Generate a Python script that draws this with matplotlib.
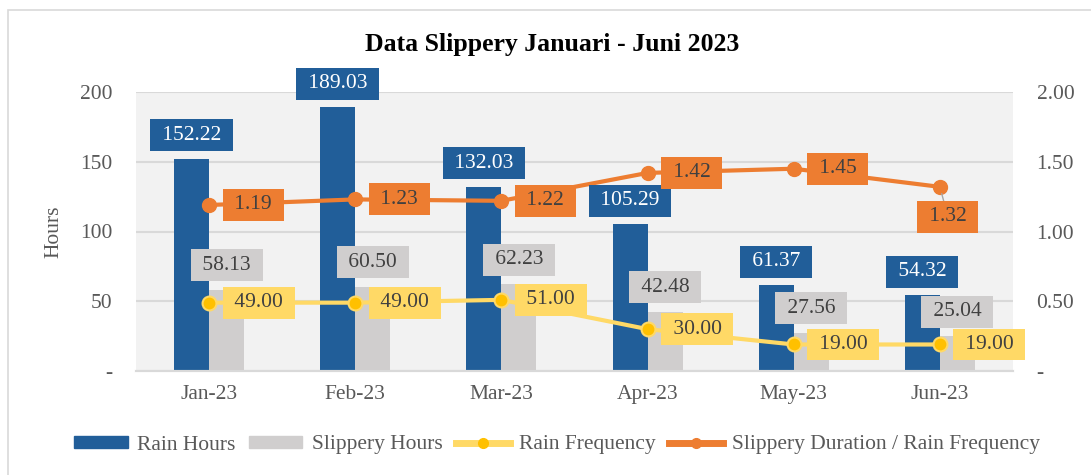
import matplotlib
matplotlib.use("Agg")
import matplotlib.pyplot as plt
import numpy as np
from matplotlib.lines import Line2D
from matplotlib.patches import Patch, Rectangle

plt.rcParams["font.family"] = ["Liberation Serif", "DejaVu Serif"]

months = ["Jan-23", "Feb-23", "Mar-23", "Apr-23", "May-23", "Jun-23"]
rain_hours = [152.22, 189.03, 132.03, 105.29, 61.37, 54.32]
slippery_hours = [58.13, 60.50, 62.23, 42.48, 27.56, 25.04]
rain_freq = [49.00, 49.00, 51.00, 30.00, 19.00, 19.00]
slip_per_rain = [1.19, 1.23, 1.22, 1.42, 1.45, 1.32]

left_ticks = [0, 50, 100, 150, 200]
left_labels = ["-", "50", "100", "150", "200"]
right_ticks = [0, 0.5, 1.0, 1.5, 2.0]
right_labels = ["-", "0.50", "1.00", "1.50", "2.00"]

BLUE = "#215E99"
GRAY = "#D0CECE"
YELLOW = "#FFD966"
GOLD = "#FFC000"
ORANGE = "#ED7D31"
TXT = "#404040"
TICK = "#595959"
GRID = "#D9D9D9"
FS = 15.5

fig = plt.figure(figsize=(10.91, 4.75), dpi=100)
ax = fig.add_axes([136 / 1091, 104 / 475, 877 / 1091, 279 / 475])
ax2 = ax.twinx()

x = np.arange(len(months))
w = 0.24
ax.set_facecolor("#F2F2F2")
ax.bar(x - w / 2, rain_hours, w, color=BLUE, zorder=2)
ax.bar(x + w / 2, slippery_hours, w, color=GRAY, zorder=2)
ax.plot(x, rain_freq, color=YELLOW, lw=3, marker="o", ms=10,
        mfc=GOLD, mec=YELLOW, mew=1.5, zorder=3)
ax2.plot(x, slip_per_rain, color=ORANGE, lw=3, marker="o", ms=10,
         mfc=ORANGE, mec=ORANGE, zorder=3)

ax.set_xlim(-0.5, len(months) - 0.5)
ax.set_ylim(0, 200)
ax2.set_ylim(0, 2)
ax.set_xticks(x, months)
ax.set_yticks(left_ticks, left_labels)
ax2.set_yticks(right_ticks, right_labels)
ax.yaxis.grid(True, color=GRID, lw=1.5)
ax.set_axisbelow(True)
for a in (ax, ax2):
    for s in ("top", "left", "right"):
        a.spines[s].set_visible(False)
    a.spines["bottom"].set_color(GRID)
    a.spines["bottom"].set_linewidth(1.5)
    a.tick_params(length=0, labelsize=FS, colors=TICK)
ax.tick_params(axis="y", pad=17)
ax2.tick_params(axis="y", pad=17)
ax.tick_params(axis="x", pad=10)

ax.set_ylabel("Hours", fontsize=FS, color=TICK)
ax.yaxis.set_label_coords(-0.083, 0.5)


def label(xv, yv, text, fc, tc, dx, dy, ha="center", trans=None, **kw):
    ax2.annotate(f" {text:.2f} ", (xv, yv), xycoords=trans or ax2.transData,
                 xytext=(dx, dy), textcoords="offset pixels",
                 ha=ha, va="center", fontsize=FS, color=tc, zorder=10,
                 bbox=dict(boxstyle="square,pad=0.3", fc=fc, ec="none"), **kw)


for i in x:
    label(i - w / 2, rain_hours[i], rain_hours[i], BLUE, "white", 0, 23.5,
          trans=ax.transData)
    label(i + w / 2, slippery_hours[i], slippery_hours[i], GRAY, TXT, 0, 24.5,
          trans=ax.transData)
    label(i, rain_freq[i], rain_freq[i], YELLOW, TXT, 20, 0, ha="left",
          trans=ax.transData)
    if i < len(months) - 1:
        label(i, slip_per_rain[i], slip_per_rain[i], ORANGE, TXT, 20, 0, ha="left")
    else:
        label(i, slip_per_rain[i], slip_per_rain[i], ORANGE, TXT, 8, -30,
              arrowprops=dict(arrowstyle="-", color="#A6A6A6", lw=1,
                              shrinkA=0, shrinkB=5))

fig.text(552 / 1091, (475 - 45) / 475, "Data Slippery Januari - Juni 2023",
         ha="center", va="center", fontsize=18.5, fontweight="bold", color="black")

handles = [
    Patch(color=BLUE),
    Patch(color=GRAY),
    Line2D([], [], color=YELLOW, lw=5, marker="o", ms=7, mfc=GOLD, mec=GOLD),
    Line2D([], [], color=ORANGE, lw=5, marker="o", ms=7, mfc=ORANGE, mec=ORANGE),
]
names = ["Rain Hours", "Slippery Hours", "Rain Frequency",
         "Slippery Duration / Rain Frequency"]
leg = fig.legend(handles, names, loc="center", bbox_to_anchor=(557 / 1091, 30 / 475),
                 ncol=4, frameon=False, fontsize=FS, handlelength=2.5,
                 handleheight=0.5, handletextpad=0.45, columnspacing=0.6)
for t in leg.get_texts():
    t.set_color(TICK)

fig.patches.append(Rectangle((8 / 1091, -0.1), 1.1, (475 - 10) / 475 + 0.1,
                             transform=fig.transFigure, fill=False,
                             ec=GRID, lw=1.2))

fig.savefig("out.png", dpi=100)
